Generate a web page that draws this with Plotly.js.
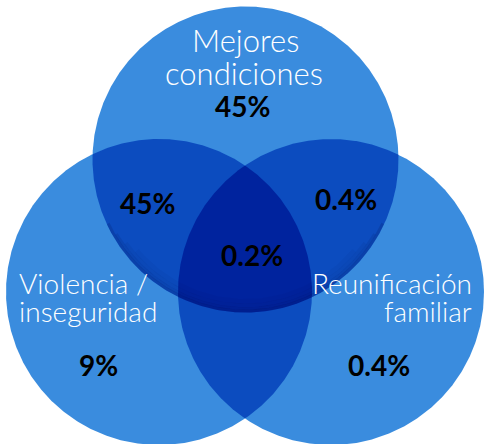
<!DOCTYPE html>
<html><head><meta charset="utf-8">
<script src="https://cdn.plot.ly/plotly-3.0.1.min.js"></script>
<style>html,body{margin:0;padding:0;background:#fff;}</style>
</head><body>
<div id="chart" style="width:484px;height:444px;"></div>
<script>
// Data
const setLines = [['Mejores', 'condiciones'], ['Violencia /', 'inseguridad'], ['Reunificación', 'familiar']];
const regions = ['Solo mejores condiciones', 'Mejores condiciones + violencia', 'Mejores condiciones + reunificación',
                 'Las tres', 'Solo violencia', 'Solo reunificación'];
const regionValues = [45, 45, 0.4, 0.2, 9, 0.4];

// Layout geometry (pixel-like data coordinates)
const circleX = [245.5, 159, 331];
const circleY = [159.5, 292, 292];
const circleR = 153;
const valueX = [242.5, 147, 346, 252, 98, 379];
const valueY = [106, 203, 199, 255, 365, 365];
const setLabelX = [[245, 244], [17, 17], [474, 474]];
const setLabelY = [[40, 72.5], [282.5, 311], [282.5, 311]];
const setXAnchor = ['center', 'left', 'right'];
const setFontSize = [31, 28, 28];

const colSingle = '#3a8cde', colDouble = '#0c4cbf', colTriple = '#00239e';
const fontFam = 'Lato, "Open Sans", sans-serif';

const N = 720;
function circlePts(i, r) {
  r = r || circleR;
  const pts = [];
  for (let k = 0; k < N; k++) {
    const t = 2 * Math.PI * k / N;
    pts.push([circleX[i] + r * Math.cos(t), circleY[i] + r * Math.sin(t)]);
  }
  return pts;
}
function inside(p, j) {
  return Math.hypot(p[0] - circleX[j], p[1] - circleY[j]) <= circleR + 1e-6;
}
function region(idx) {
  let pts = [];
  idx.forEach(i => {
    circlePts(i).forEach(p => { if (idx.every(j => j === i || inside(p, j))) pts.push(p); });
  });
  const cx = pts.reduce((s, p) => s + p[0], 0) / pts.length;
  const cy = pts.reduce((s, p) => s + p[1], 0) / pts.length;
  pts.sort((a, b) => Math.atan2(a[1] - cy, a[0] - cx) - Math.atan2(b[1] - cy, b[0] - cx));
  pts.push(pts[0]);
  return pts;
}
function fillTrace(pts, color) {
  return {x: pts.map(p => p[0]), y: pts.map(p => p[1]), type: 'scatter', mode: 'lines',
    fill: 'toself', fillcolor: color, line: {width: 0, color: color}, hoverinfo: 'skip', showlegend: false};
}

const traces = [];
[0, 1, 2].forEach(i => { const p = circlePts(i); p.push(p[0]); traces.push(fillTrace(p, colSingle)); });
[[0, 1], [0, 2], [1, 2]].forEach(pair => traces.push(fillTrace(region(pair), colDouble)));
traces.push(fillTrace(region([0, 1, 2]), colTriple));

// soft inner shadow along the lower edge of the top circle
const shadowBands = [[1.5, 3, 0.16, 25, 155], [4, 3, 0.10, 30, 150], [7, 4, 0.06, 35, 145], [11, 5, 0.035, 40, 140]];
shadowBands.forEach(b => {
  const [off, w, a, t0, t1] = b;
  const xs = [], ys = [];
  for (let t = t0; t <= t1; t += 1) {
    const rad = t * Math.PI / 180;
    xs.push(circleX[0] + (circleR - off) * Math.cos(rad));
    ys.push(circleY[0] + (circleR - off) * Math.sin(rad));
  }
  traces.push({x: xs, y: ys, type: 'scatter', mode: 'lines', line: {width: w, color: 'rgba(0,10,70,' + a + ')'},
    hoverinfo: 'skip', showlegend: false});
});

const annotations = [];
setLines.forEach((lines, i) => {
  lines.forEach((s, k) => {
    annotations.push({
      x: setLabelX[i][k], y: setLabelY[i][k], xref: 'x', yref: 'y',
      text: s, showarrow: false, xanchor: setXAnchor[i], yanchor: 'middle',
      font: {family: fontFam, size: setFontSize[i], color: '#ffffff', weight: 300}
    });
  });
});
regionValues.forEach((v, i) => {
  annotations.push({
    x: valueX[i], y: valueY[i], xref: 'x', yref: 'y',
    text: '<b>' + v + '%</b>', showarrow: false, xanchor: 'center', yanchor: 'middle',
    font: {family: fontFam, size: 28, color: '#000000'}
  });
});

Plotly.newPlot('chart', traces, {
  width: 484, height: 444,
  margin: {l: 0, r: 0, t: 0, b: 0},
  paper_bgcolor: '#ffffff', plot_bgcolor: '#ffffff',
  xaxis: {range: [0, 484], visible: false, fixedrange: true},
  yaxis: {range: [444, 0], visible: false, fixedrange: true},
  annotations: annotations,
  showlegend: false
}, {displayModeBar: false, staticPlot: true});
</script>
</body></html>
